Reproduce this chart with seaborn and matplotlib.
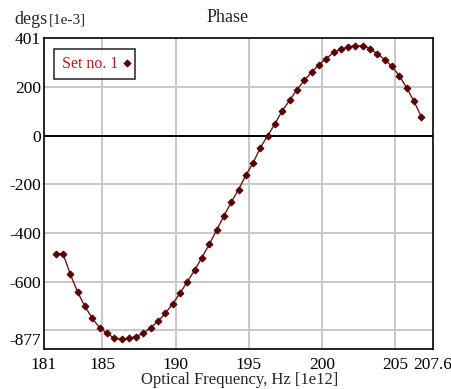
import matplotlib
matplotlib.use("Agg")
import matplotlib.pyplot as plt
import pandas as pd
import seaborn as sb
import numpy as np

# phase vs optical frequency
freq = [181.8, 182.3, 182.8, 183.3, 183.8, 184.3, 184.8, 185.3, 185.8, 186.3,
        186.8, 187.3, 187.8, 188.3, 188.8, 189.3, 189.8, 190.3, 190.8, 191.3,
        191.8, 192.3, 192.8, 193.3, 193.8, 194.3, 194.8, 195.3, 195.8, 196.3,
        196.8, 197.3, 197.8, 198.3, 198.8, 199.3, 199.8, 200.3, 200.8, 201.3,
        201.8, 202.3, 202.8, 203.3, 203.8, 204.3, 204.8, 205.3, 205.8, 206.3,
        206.8]
phase = [-485, -485, -570, -643, -702, -751, -789, -812, -833, -837,
         -833, -826, -812, -789, -763, -730, -691, -648, -600, -554,
         -501, -447, -389, -331, -274, -222, -163, -112, -49, 0,
         49, 103, 145, 189, 227, 260, 291, 316, 342, 355,
         364, 369, 369, 357, 336, 312, 284, 246, 196, 141,
         77]

xticks = [181, 185, 190, 195, 200, 205, 207.6]
xticklabels = ["181", "185", "190", "195", "200", "205", "207.6"]
yticks = [401, 200, 0, -200, -400, -600, -800, -877]
yticklabels = ["401", "200", "0", "-200", "-400", "-600", "", "-877"]
xgrid = [185, 190, 195, 200, 205]
ygrid = [200, -200, -400, -600, -800]

df = pd.DataFrame({"freq": freq, "phase": phase})

sb.set_style("white")
plt.rcParams["font.family"] = ["Liberation Serif", "DejaVu Serif"]

fig = plt.figure(figsize=(4.52, 3.89), dpi=100)
ax = fig.add_axes([44 / 452, 1 - 349 / 389, 389 / 452, 311 / 389])

for gx in xgrid:
    ax.axvline(gx, color="#c8c8c8", lw=1.4, zorder=0)
for gy in ygrid:
    ax.axhline(gy, color="#c8c8c8", lw=1.4, zorder=0)
ax.axhline(0, color="black", lw=1.4, zorder=1)

sb.lineplot(data=df, x="freq", y="phase", ax=ax, color="#5e1c1c", lw=1.0,
            marker="D", markersize=3.5, markerfacecolor="#5a0000",
            markeredgecolor="#5a0000", label="Set no. 1", zorder=3)

ax.set_xlim(181, 207.6)
ax.set_ylim(-877, 401)
ax.set_xticks(xticks)
ax.set_xticklabels(xticklabels)
ax.set_yticks(yticks)
ax.set_yticklabels(yticklabels)
ax.tick_params(direction="in", length=4, width=1, colors="black",
               labelsize=12.5)
ax.tick_params(axis="x", pad=6)
ax.tick_params(axis="y", pad=2)
# bottom y label sits just above the corner, as in the reference
ax.get_yticklabels()[-1].set_va("bottom")
ax.set_xlabel("")
ax.set_ylabel("")
for s in ax.spines.values():
    s.set_color("black")
    s.set_linewidth(1.2)

leg = ax.legend(loc="upper left", bbox_to_anchor=(0.006, 0.99), frameon=True,
                fancybox=False, edgecolor="black", handlelength=0.0,
                markerfirst=False, borderpad=0.45, handletextpad=0.6,
                fontsize=11.5)
leg.get_frame().set_linewidth(1.2)
for t in leg.get_texts():
    t.set_color("#b01c1c")

fig.text(228 / 452, 1 - 18 / 389, "Phase", ha="center", va="center", fontsize=13)
fig.text(14 / 452, 1 - 24 / 389, "degs", ha="left", va="baseline", fontsize=13)
fig.text(49 / 452, 1 - 24 / 389, "[1e-3]", ha="left", va="baseline", fontsize=11)
fig.text(240 / 452, 1 - 380 / 389, "Optical Frequency, Hz [1e12]",
         ha="center", va="center", fontsize=12)

plt.savefig("out.png", dpi=100)
